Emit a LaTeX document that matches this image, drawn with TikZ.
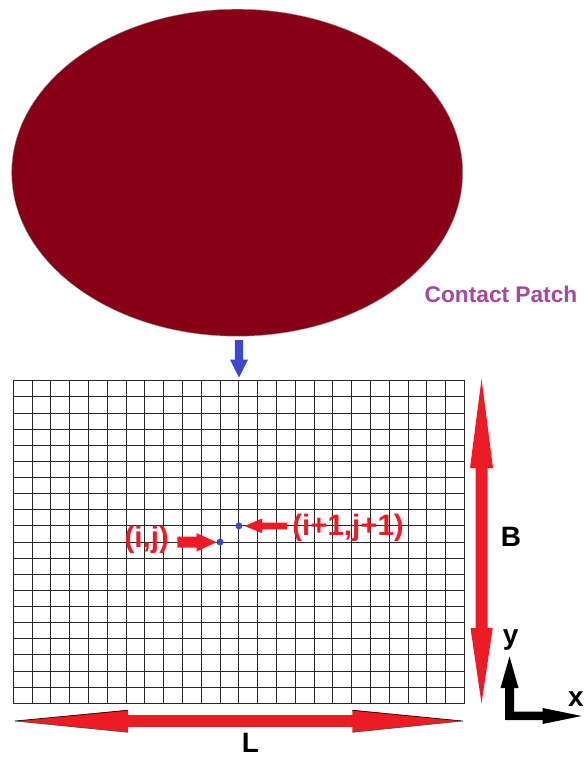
\documentclass[tikz,border=0pt]{standalone}
\usetikzlibrary{shapes.geometric}
\usepackage{fontspec}
\setmainfont{Liberation Sans}
\definecolor{patchred}{HTML}{880015}
\definecolor{arrred}{HTML}{ED1C24}
\definecolor{arrblue}{HTML}{3F48CC}
\definecolor{labpurple}{HTML}{A349A4}
\begin{document}
\begin{tikzpicture}[x=1pt,y=-1pt,
  gridline/.style={draw=black!85,line width=0.9pt},
  lab/.style={font=\fontsize{28}{30}\selectfont\bfseries,inner sep=0pt},
  redlab/.style={font=\fontsize{29.5}{31}\selectfont\bfseries,inner sep=0pt,text=arrred},
  dotmark/.style={circle,fill=arrblue,inner sep=0pt,minimum size=7pt}]
\useasboundingbox (0,0) rectangle (585,758);
\fill[white] (0,0) rectangle (585,758);
% contact patch ellipse
\node[ellipse,fill=patchred,draw=black!40,line width=0.4pt,
      minimum width=451pt,minimum height=327pt,inner sep=0pt] (patch) at (237.2,172.7) {};
\node[font=\fontsize{22.7}{25}\selectfont\bfseries,text=labpurple,inner sep=0pt] (cp) at (501,294) {Contact Patch};
% blue arrow
\fill[arrblue] (234.8,340) -- (234.8,359.5) -- (230,359.5) -- (239,377.5) -- (248,359.5) -- (243.2,359.5) -- (243.2,340) -- cycle;
% grid
\foreach \i in {0,...,24} {
  \draw[gridline] (13.3+\i*18.8,380.7) -- (13.3+\i*18.8,703.3);
}
\foreach \j in {0,...,20} {
  \draw[gridline] (13.3,380.7+\j*16.13) -- (464.5,380.7+\j*16.13);
}
% points
\node[dotmark] (pij) at (220.1,542) {};
\node[dotmark] (pij1) at (238.9,525.9) {};
\node[redlab] (lij) at (146.7,539.5) {(i,j)};
\node[redlab] (lij1) at (348,527.5) {(i+1,j+1)};
% arrow to (i,j)
\fill[arrred] (177.3,536.7) -- (196.7,536.7) -- (196.7,533.2) -- (216.5,542.2) -- (196.7,551.5) -- (196.7,547.7) -- (177.3,547.7) -- cycle;
% arrow to (i+1,j+1)
\fill[arrred] (287,522.5) -- (262,522.5) -- (262,518.5) -- (244.5,526) -- (262,533.2) -- (262,529.4) -- (287,529.4) -- cycle;
% B arrow
\fill[arrred] (481.5,379) -- (493,468) -- (487.5,468) -- (487.5,628) -- (492.7,628) -- (481.5,703.5) -- (470.5,628) -- (475.5,628) -- (475.5,468) -- (470,468) -- cycle;
\node[lab] (lB) at (511,537) {B};
% L arrow
\fill[arrred] (15,721) -- (128,709.8) -- (128,715.2) -- (352.3,715.2) -- (352.3,709.8) -- (462.7,721) -- (352.3,732.5) -- (352.3,726.8) -- (128,726.8) -- (128,732.5) -- cycle;
\draw[black,line width=0.6pt] (15,721) -- (128,710.3);
\draw[black!70,line width=0.6pt] (15,721) -- (128,732.2);
\draw[black,line width=0.6pt] (462.7,721) -- (352.3,710.3);
\draw[black!70,line width=0.6pt] (462.7,721) -- (352.3,732.2);
\node[lab] (lL) at (250.5,743) {L};
% axes
\fill[black] (505,720) -- (505,688) -- (500.5,688) -- (509.5,656.5) -- (518.5,688) -- (514,688) -- (514,711.7) -- (542.7,711.7) -- (542.7,708) -- (581.7,716) -- (542.7,724) -- (542.7,720) -- cycle;
\node[lab] (ly) at (510.7,640) {y};
\node[lab] (lx) at (576,699) {x};
\end{tikzpicture}
\end{document}
